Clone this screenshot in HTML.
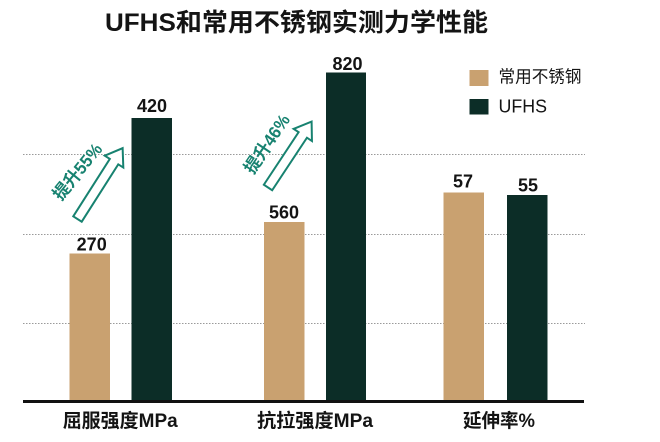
<!DOCTYPE html>
<html><head><meta charset="utf-8">
<style>
html,body{margin:0;padding:0;background:#fff;}
svg{display:block;}
text{font-family:"Liberation Sans","Noto Sans CJK SC",sans-serif;}
</style></head>
<body>
<svg width="660" height="442" viewBox="0 0 660 442" xmlns="http://www.w3.org/2000/svg">
<rect width="660" height="442" fill="#fff"/>
<!-- title -->
<text x="105" y="31" font-size="25" font-weight="bold" fill="#141414" textLength="383" lengthAdjust="spacingAndGlyphs">UFHS和常用不锈钢实测力学性能</text>
<!-- gridlines -->
<g stroke="#9a9a9a" stroke-width="1" stroke-dasharray="1.5,1.5">
<line x1="23" y1="154.5" x2="585" y2="154.5"/>
<line x1="23" y1="234.5" x2="585" y2="234.5"/>
<line x1="23" y1="323.5" x2="585" y2="323.5"/>
</g>
<!-- bars -->
<g fill="#c9a170">
<rect x="69.5" y="253.5" width="40.5" height="148"/>
<rect x="264" y="222" width="40.5" height="179.5"/>
<rect x="443.5" y="192.5" width="40.5" height="209"/>
</g>
<g fill="#0c2d27">
<rect x="131.5" y="118" width="40.5" height="283.5"/>
<rect x="326" y="72.5" width="40" height="329"/>
<rect x="507" y="195" width="40.5" height="206.5"/>
</g>
<!-- axis -->
<rect x="23" y="400" width="561" height="3" fill="#111"/>
<!-- value labels -->
<g font-size="18" font-weight="bold" fill="#141414" text-anchor="middle">
<text x="91.7" y="250.5">270</text>
<text x="152" y="112">420</text>
<text x="284" y="218.5">560</text>
<text x="347.5" y="70">820</text>
<text x="463" y="187.7">57</text>
<text x="528" y="191.7">55</text>
</g>
<!-- category labels -->
<g font-size="19" font-weight="bold" fill="#141414">
<text x="62.7" y="427" textLength="115" lengthAdjust="spacingAndGlyphs">屈服强度MPa</text>
<text x="257" y="427" textLength="116" lengthAdjust="spacingAndGlyphs">抗拉强度MPa</text>
<text x="463" y="427" textLength="72" lengthAdjust="spacingAndGlyphs">延伸率%</text>
</g>
<!-- legend -->
<rect x="469.5" y="70" width="19" height="16" fill="#c9a170"/>
<rect x="469.5" y="99" width="19" height="15.5" fill="#0c2d27"/>
<text x="498.5" y="82.5" font-size="17" fill="#141414" textLength="83" lengthAdjust="spacingAndGlyphs">常用不锈钢</text>
<text x="498.5" y="112.7" font-size="18" fill="#141414" textLength="48.5" lengthAdjust="spacingAndGlyphs">UFHS</text>
<!-- arrows -->
<g fill="#fff" stroke="#178270" stroke-width="2" stroke-linejoin="miter">
<path transform="translate(77.5,219) rotate(-57.5)" d="M0,-5 L68,-5 L68,-11 L84,0 L68,11 L68,5 L0,5 Z"/>
<path transform="translate(268,187.5) rotate(-56.5)" d="M0,-5 L63,-5 L63,-11 L79,0 L63,11 L63,5 L0,5 Z"/>
</g>
<!-- arrow labels -->
<g font-size="17.5" font-weight="bold" fill="#178270" text-anchor="middle" dominant-baseline="central">
<text transform="translate(77.5,171.7) rotate(-51)" textLength="67" lengthAdjust="spacingAndGlyphs">提升55%</text>
<text transform="translate(267,144) rotate(-56)" textLength="67" lengthAdjust="spacingAndGlyphs">提升46%</text>
</g>
</svg>
</body></html>
